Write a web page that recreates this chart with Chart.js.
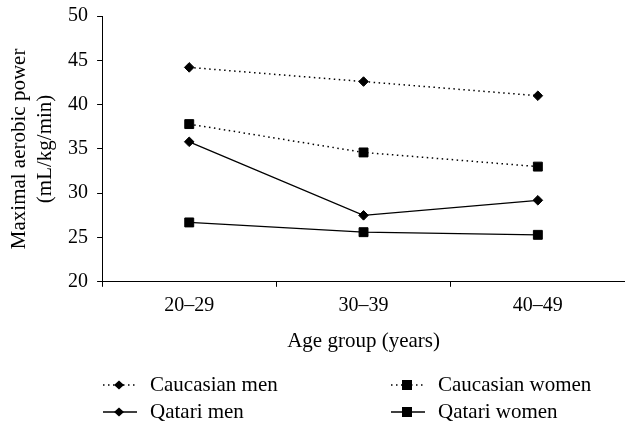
<!DOCTYPE html>
<html>
<head>
<meta charset="utf-8">
<script src="https://cdn.jsdelivr.net/npm/chart.js@4"></script>
<style>
  html, body { margin: 0; padding: 0; background: #fff; }
  #wrap { width: 625px; height: 423px; }
</style>
</head>
<body>
<div id="wrap"><canvas id="chart"></canvas></div>
<script>
// Data
const ageGroups = ['20\u201329', '30\u201339', '40\u201349'];
const caucasianMen = [44.2, 42.6, 41.0];
const caucasianWomen = [37.8, 34.6, 33.0];
const qatariMen = [35.8, 27.5, 29.2];
const qatariWomen = [26.7, 25.6, 25.3];
const yTicks = [20, 25, 30, 35, 40, 45, 50];

const serif = 'Liberation Serif';
const dotted = [1.5, 3.5];

// Legend drawn below the axis title: two columns, line sample with marker
const bottomLegend = {
  id: 'bottomLegend',
  afterDraw(chart) {
    const ctx = chart.ctx;
    const cols = [103, 391];
    const rows = [385, 412];
    ctx.save();
    chart.data.datasets.forEach((ds, i) => {
      const x = cols[i % 2];
      const y = rows[Math.floor(i / 2)];
      ctx.strokeStyle = '#000';
      ctx.lineWidth = ds.borderWidth;
      ctx.setLineDash(ds.borderDash || []);
      ctx.beginPath();
      ctx.moveTo(x, y);
      ctx.lineTo(x + 34, y);
      ctx.stroke();
      ctx.setLineDash([]);
      ctx.fillStyle = '#000';
      const cx = x + 16;
      ctx.beginPath();
      if (ds.pointStyle === 'rectRot') {
        ctx.moveTo(cx, y - 4.5);
        ctx.lineTo(cx + 5, y);
        ctx.lineTo(cx, y + 4.5);
        ctx.lineTo(cx - 5, y);
        ctx.closePath();
      } else {
        ctx.rect(cx - 5, y - 5, 10, 10);
      }
      ctx.fill();
      ctx.font = '21px "' + serif + '"';
      ctx.textBaseline = 'middle';
      ctx.textAlign = 'left';
      ctx.fillText(ds.label, x + 47, y);
    });
    ctx.restore();
  }
};

const datasets = [
  { label: 'Caucasian men', data: caucasianMen, pointStyle: 'rectRot', pointRadius: 4.8, borderDash: dotted, borderWidth: 1.5 },
  { label: 'Caucasian women', data: caucasianWomen, pointStyle: 'rect', pointRadius: 6.3, borderDash: dotted, borderWidth: 1.5 },
  { label: 'Qatari men', data: qatariMen, pointStyle: 'rectRot', pointRadius: 4.8, borderWidth: 1.3 },
  { label: 'Qatari women', data: qatariWomen, pointStyle: 'rect', pointRadius: 6.3, borderWidth: 1.3 }
].map(d => Object.assign({
  borderColor: '#000',
  backgroundColor: '#000',
  pointBackgroundColor: '#000',
  pointBorderColor: '#000',
  pointBorderWidth: 1,
  tension: 0,
  fill: false
}, d));

new Chart(document.getElementById('chart'), {
  type: 'line',
  data: { labels: ageGroups, datasets: datasets },
  options: {
    responsive: true,
    maintainAspectRatio: false,
    animation: false,
    layout: { autoPadding: false, padding: { left: 6, right: 0, top: 0, bottom: 69 } },
    plugins: { legend: { display: false }, tooltip: { enabled: false } },
    scales: {
      x: {
        offset: true,
        // let the axis run to the right edge like the reference
        afterFit: scale => { scale.paddingLeft = 0; scale.paddingRight = 0; },
        grid: { offset: true, drawOnChartArea: false, drawTicks: true, tickLength: 5, color: '#000' },
        border: { display: true, color: '#000', width: 1 },
        ticks: { color: '#000', font: { family: serif, size: 20 }, padding: 7 },
        title: { display: true, text: 'Age group (years)', color: '#000', font: { family: serif, size: 21 }, padding: { top: 4, bottom: 0 } }
      },
      y: {
        min: 20,
        max: 50,
        afterBuildTicks: axis => { axis.ticks = yTicks.map(v => ({ value: v })); },
        afterFit: scale => { scale.paddingTop = 16; },
        grid: { drawOnChartArea: false, drawTicks: true, tickLength: 5, color: '#000' },
        border: { display: true, color: '#000', width: 1 },
        ticks: { color: '#000', font: { family: serif, size: 20 }, padding: 9 },
        title: { display: true, text: ['Maximal aerobic power', '(mL/kg/min)'], color: '#000', font: { family: serif, size: 21, lineHeight: 1.24 }, padding: { top: 0, bottom: 1 } }
      }
    }
  },
  plugins: [bottomLegend]
});
</script>
</body>
</html>
